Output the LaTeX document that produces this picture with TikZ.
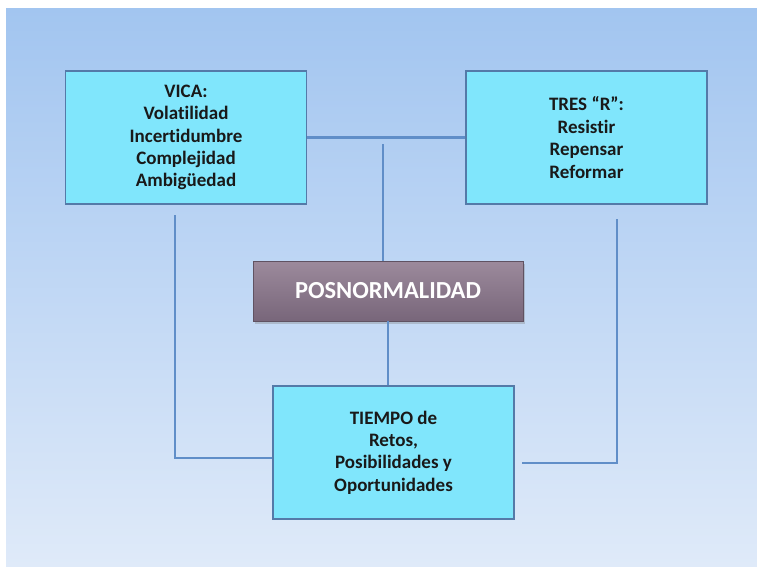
\documentclass[tikz,border=0pt]{standalone}
\usepackage{fontspec}
\setmainfont[Ligatures=NoCommon]{Carlito}
\usetikzlibrary{shadows}
\definecolor{bgtop}{RGB}{162,197,240}
\definecolor{bgbot}{RGB}{223,234,249}
\definecolor{boxfill}{RGB}{128,230,252}
\definecolor{boxline}{RGB}{84,122,168}
\definecolor{conn}{RGB}{96,142,200}
\definecolor{postop}{RGB}{156,138,156}
\definecolor{posbot}{RGB}{120,102,122}
\tikzset{
  x=1pt, y=-1pt,
  infobox/.style={draw=boxline, line width=1.2pt, fill=boxfill, rectangle,
    minimum width=241pt, minimum height=133pt, inner sep=0pt, align=center,
    font=\fontsize{19}{22.4}\selectfont\bfseries, text=black!90},
  posbox/.style={rectangle, minimum width=270pt, minimum height=60pt, inner sep=0pt,
    top color=postop, bottom color=posbot, draw=posbot!80!black, line width=0.4pt,
    drop shadow={shadow xshift=2pt, shadow yshift=-3pt, opacity=0.35},
    text=white, font=\fontsize{24.5}{26}\selectfont\bfseries},
  link/.style={draw=conn, line width=2.2pt}
}
\begin{document}
\begin{tikzpicture}
\useasboundingbox (0,0) rectangle (757,566);
\fill[white] (0,0) rectangle (757,566);
\shade[top color=bgtop, bottom color=bgbot] (6,8) rectangle (757,566);

\node[infobox] (vica) at (186,137.5) {VICA:\\Volatilidad\\Incertidumbre\\Complejidad\\Ambigüedad};
\node[infobox] (tres) at (586.5,137.5) {TRES “R”:\\Resistir\\Repensar\\Reformar};
\node[posbox] (pos) at (388,291) {POSNORMALIDAD};
\node[infobox] (tiempo) at (393.5,452.5) {TIEMPO de\\Retos,\\Posibilidades y\\Oportunidades};

\coordinate (ct) at (383,144);
\coordinate (lt) at (175,215);
\coordinate (lc) at (175,458);
\coordinate (rt) at (617,219);
\coordinate (rc) at (617,463);
\coordinate (re) at (522,463);

\draw[link] (vica.east) -- (tres.west);
\draw[link] (ct) -- (ct |- pos.north);
\draw[link] (pos.south) -- (pos.south |- tiempo.north);
\draw[link] (lt) -- (lc) -- (lc -| tiempo.west);
\draw[link] (re) -- (rc) -- (rt);
\end{tikzpicture}
\end{document}
